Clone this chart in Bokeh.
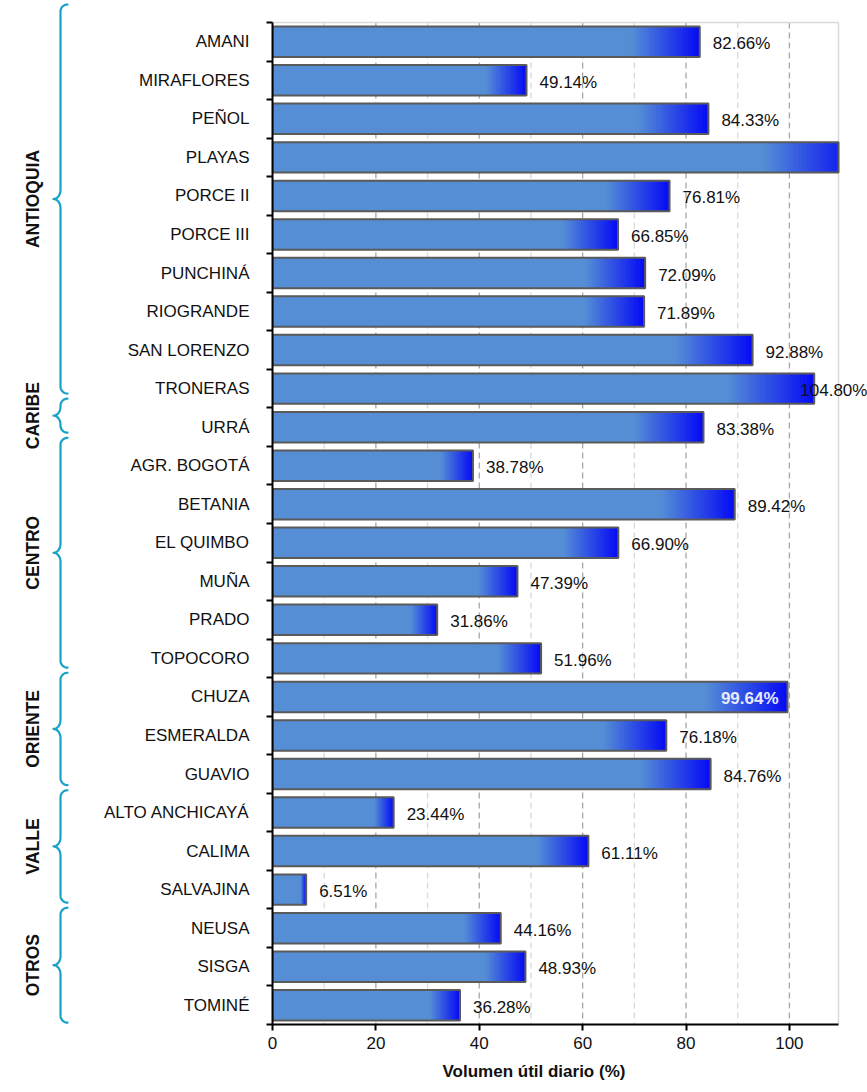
import numpy as np
from bokeh.plotting import figure
from bokeh.models import (Range1d, LinearAxis, FixedTicker, ColumnDataSource, LabelSet,
                          Title, CustomJSTickFormatter)
from bokeh.layouts import row
from bokeh.embed import file_html
from bokeh.resources import INLINE
from bokeh.core.properties import value

# ---------------- data ----------------
names = ["AMANI", "MIRAFLORES", "PEÑOL", "PLAYAS", "PORCE II", "PORCE III", "PUNCHINÁ",
         "RIOGRANDE", "SAN LORENZO", "TRONERAS", "URRÁ", "AGR. BOGOTÁ", "BETANIA",
         "EL QUIMBO", "MUÑA", "PRADO", "TOPOCORO", "CHUZA", "ESMERALDA", "GUAVIO",
         "ALTO ANCHICAYÁ", "CALIMA", "SALVAJINA", "NEUSA", "SISGA", "TOMINÉ"]
values = [82.66, 49.14, 84.33, 113.0, 76.81, 66.85, 72.09, 71.89, 92.88, 104.80,
          83.38, 38.78, 89.42, 66.90, 47.39, 31.86, 51.96, 99.64, 76.18, 84.76,
          23.44, 61.11, 6.51, 44.16, 48.93, 36.28]
group_names = ["ANTIOQUIA", "CARIBE", "CENTRO", "ORIENTE", "VALLE", "OTROS"]
group_sizes = [10, 1, 6, 3, 3, 3]
inside_labels = ["CHUZA"]
x_max = 109.5
x_major_ticks = [0, 20, 40, 60, 80, 100]
x_minor_ticks = [10, 30, 50, 70, 90]
x_title = "Volumen útil diario (%)"

# ---------------- style / layout ----------------
FONT = "Liberation Sans"
FS = "17px"
BASE = (85, 142, 213)
END = (5, 10, 245)
BRACE = "#17a2c8"
W, H = 867, 1092
WL = 80
FRAME_L, FRAME_R_AXIS, FRAME_T, FRAME_B = 272, 838, 22, 1024
TOP_EXTRA = 20  # px of frame above the first bar band (room for the brace)
LABEL_CLAMP = 99.6

n = len(names)
v = np.array(values, dtype=float)
vc = np.minimum(v, x_max)
yc = np.arange(n) + 0.5
BAR_H = 0.79

band = (FRAME_B - FRAME_T) / n
x_view_end = x_max * (W - FRAME_L) / (FRAME_R_AXIS - FRAME_L)

# ---------------- main figure ----------------
pm = figure(width=W - WL, height=H, x_range=Range1d(0, x_view_end),
            y_range=Range1d(n, -TOP_EXTRA / band),
            output_backend="svg", toolbar_location=None, y_axis_location=None,
            min_border_left=FRAME_L - WL, min_border_right=0,
            min_border_top=FRAME_T - TOP_EXTRA, min_border_bottom=H - FRAME_B,
            outline_line_color=None)
pm.grid.visible = False

tick_axis = LinearAxis(ticker=FixedTicker(ticks=list(range(n + 1))), bounds=(0, n),
                       formatter=CustomJSTickFormatter(code="return ''"),
                       axis_line_color="black", axis_line_width=2,
                       major_tick_out=6, major_tick_in=0, major_tick_line_width=2,
                       minor_tick_line_color=None, major_label_text_font_size="0px",
                       major_label_standoff=0)
label_axis = LinearAxis(ticker=FixedTicker(ticks=list(yc)),
                        formatter=CustomJSTickFormatter(args=dict(names=names),
                                                        code="return names[Math.floor(tick)]"),
                        axis_line_color=None,
                        major_tick_line_color=None, minor_tick_line_color=None,
                        major_label_text_font=FONT, major_label_text_font_size=FS,
                        major_label_text_color="#111111", major_label_standoff=11)
pm.add_layout(tick_axis, "left")
pm.add_layout(label_axis, "left")

xa = pm.xaxis[0]
xa.ticker = FixedTicker(ticks=x_major_ticks, minor_ticks=x_minor_ticks)
xa.bounds = (0, x_max)
xa.axis_line_color = "black"
xa.axis_line_width = 2
xa.major_tick_out = 6
xa.major_tick_in = 0
xa.major_tick_line_width = 2
xa.minor_tick_line_color = None
xa.major_label_text_font = FONT
xa.major_label_text_font_size = FS
xa.major_label_text_color = "#111111"
xa.major_label_standoff = 6

pm.add_layout(Title(text=x_title, align="left", offset=170, text_font=FONT,
                    text_font_size=FS, text_font_style="bold", text_color="#111111",
                    standoff=16), "below")

# grid lines (spanning the bar area only) and the light plot-area border
pm.segment(x0=x_minor_ticks, y0=0, x1=x_minor_ticks, y1=n, line_color="#d9d9d9",
           line_width=1.3, line_dash="6 4")
pm.segment(x0=x_major_ticks[1:], y0=0, x1=x_major_ticks[1:], y1=n, line_color="#a6a6a6",
           line_width=1.3, line_dash="6 4")
pm.segment(x0=[0, x_max], y0=[0, 0], x1=[x_max, x_max], y1=[0, n], line_color="#d9d9d9",
           line_width=1.5)

# base bars
pm.hbar(y=yc, left=0, right=vc, height=BAR_H, fill_color="#%02x%02x%02x" % BASE,
        line_color=None)

# gradient end of each bar
N = 24
f0 = 0.84
gl, gy, gr, gc = [], [], [], []
for k in range(N):
    t = (k + 0.5) / N
    col = tuple(int(round(BASE[j] + (END[j] - BASE[j]) * t)) for j in range(3))
    hexc = "#%02x%02x%02x" % col
    for i in range(n):
        gl.append(min(v[i] * (f0 + (1 - f0) * k / N), x_max))
        gr.append(vc[i])
        gy.append(yc[i])
        gc.append(hexc)
pm.hbar(y="y", left="l", right="r", height=BAR_H, fill_color="c", line_color=None,
        source=ColumnDataSource(dict(y=gy, l=gl, r=gr, c=gc)))

# outlines
pm.hbar(y=yc, left=0, right=vc, height=BAR_H, fill_color=None, line_color="#5a5a5a",
        line_width=2)

# value labels
out_idx = [i for i in range(n) if names[i] not in inside_labels and v[i] <= x_max]
in_idx = [i for i in range(n) if names[i] in inside_labels]
src_out = ColumnDataSource(dict(x=np.minimum(v[out_idx], LABEL_CLAMP), y=yc[out_idx],
                                t=["%.2f%%" % v[i] for i in out_idx]))
src_in = ColumnDataSource(dict(x=v[in_idx], y=yc[in_idx], t=["%.2f%%" % v[i] for i in in_idx]))
pm.add_layout(LabelSet(x="x", y="y", text="t", source=src_out, x_offset=13, y_offset=-2,
                       text_align="left", text_baseline="middle", text_font=value(FONT),
                       text_font_size=value(FS), text_color="#111111"))
pm.add_layout(LabelSet(x="x", y="y", text="t", source=src_in, x_offset=-9, y_offset=-2,
                       text_align="right", text_baseline="middle", text_font=value(FONT),
                       text_font_size=value(FS), text_font_style="bold",
                       text_color="#e8eaff"))

# ---------------- left figure: group braces ----------------
BR_TOP, BR_SCALE = 4, 39.16   # brace column: page px of group boundary 0 and px per row
pl = figure(width=WL, height=H, x_range=Range1d(0, WL),
            y_range=Range1d((FRAME_B - BR_TOP) / BR_SCALE,
                            (FRAME_T - TOP_EXTRA - BR_TOP) / BR_SCALE),
            output_backend="svg", toolbar_location=None, min_border=0,
            min_border_top=FRAME_T - TOP_EXTRA, min_border_bottom=H - FRAME_B,
            x_axis_location=None, y_axis_location=None, outline_line_color=None)
pl.grid.visible = False

XV, XH, XC = 60, 67, 53
ry = 7 / BR_SCALE
cy = 9 / BR_SCALE
gap = 0.065
bounds = np.concatenate([[0], np.cumsum(group_sizes)])
xs, ys, mids = [], [], []
th = np.linspace(0, np.pi / 2, 12)
for g in range(len(group_names)):
    top = bounds[g] + (gap if g > 0 else 0)
    bot = bounds[g + 1] - (gap if g < len(group_names) - 1 else 0)
    mid = (top + bot) / 2
    px, py = [], []
    px += list(XH - (XH - XV) * np.sin(th)); py += list(top + ry - ry * np.cos(th))
    px += list(XC + (XV - XC) * np.cos(th)); py += list(mid - cy + cy * np.sin(th))
    px += list(XC + (XV - XC) * np.cos(th[::-1])); py += list(mid + cy - cy * np.sin(th[::-1]))
    px += list(XH - (XH - XV) * np.sin(th[::-1])); py += list(bot - ry + ry * np.cos(th[::-1]))
    xs.append(px); ys.append(py); mids.append(mid)
pl.multi_line(xs=xs, ys=ys, line_color=BRACE, line_width=2.2, line_join="round",
              line_cap="round")
pl.text(x=[32] * len(group_names), y=mids, text=group_names, angle=np.pi / 2,
        text_align="center", text_baseline="middle", text_font=value(FONT),
        text_font_size=value("17.5px"), text_font_style="bold", text_color="#111111")

layout = row(pl, pm)
open("out.html", "w").write(file_html(layout, INLINE))
